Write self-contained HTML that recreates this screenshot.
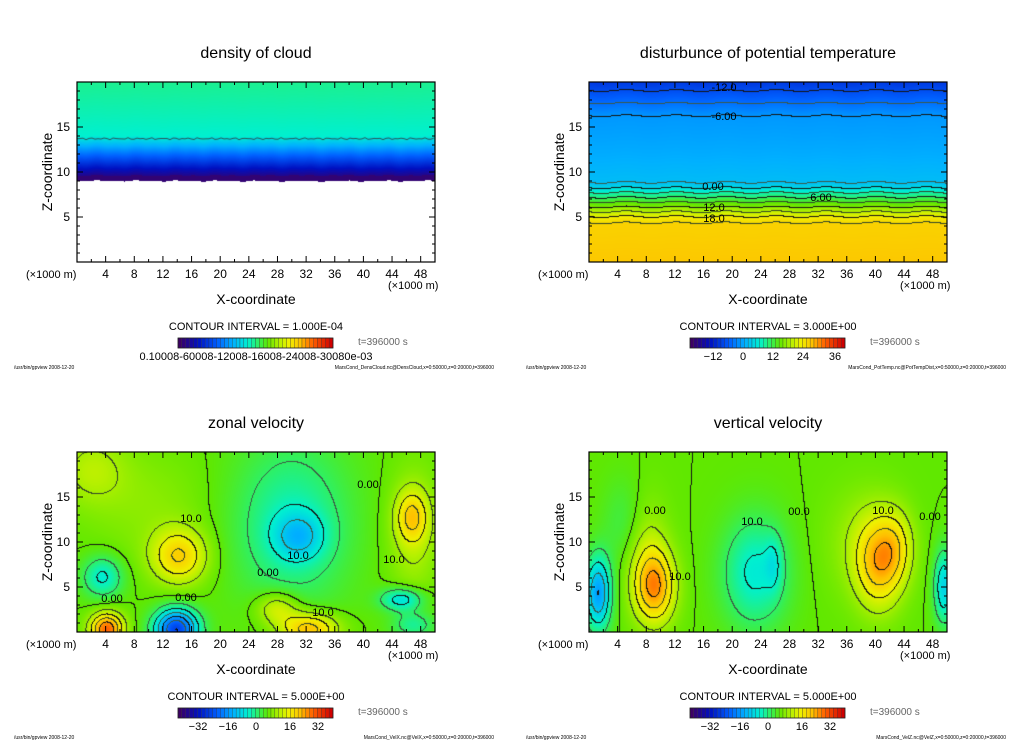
<!DOCTYPE html>
<html><head><meta charset="utf-8">
<style>
html,body{margin:0;padding:0;background:#fff;}
#root{position:relative;width:1024px;height:740px;overflow:hidden;font-family:"Liberation Sans",sans-serif;}
canvas{position:absolute;}
svg{position:absolute;left:0;top:0;}
</style></head>
<body>
<div id="root">
<canvas id="c0" width="358" height="180" style="left:77px;top:82px"></canvas>
<canvas id="c1" width="358" height="180" style="left:589px;top:82px"></canvas>
<canvas id="c2" width="358" height="180" style="left:77px;top:452px"></canvas>
<canvas id="c3" width="358" height="180" style="left:589px;top:452px"></canvas>
<svg id="ov" width="1024" height="740"></svg>
</div>
<script>
// ---- data ----
const xTicks = [4,8,12,16,20,24,28,32,36,40,44,48];
const zTicks = [5,10,15];
const titles = ["density of cloud","disturbunce of potential temperature","zonal velocity","vertical velocity"];
const intervals = ["1.000E-04","3.000E+00","5.000E+00","5.000E+00"];
const files = ["MarsCond_DensCloud.nc@DensCloud,x=0:50000,z=0:20000,t=396000","MarsCond_PotTemp.nc@PotTempDist,x=0:50000,z=0:20000,t=396000","MarsCond_VelX.nc@VelX,x=0:50000,z=0:20000,t=396000","MarsCond_VelZ.nc@VelZ,x=0:50000,z=0:20000,t=396000"];
// blobs: [x km, z km, amplitude, rx, rz]
const uBlobs = [[14.3,8.4,15,3.8,3],[3.6,6.1,-11,2.8,2.3],[4.2,0.3,24,2.3,1.8],[13.9,0.3,-30,3,2.2],[31,10.6,-10,3.5,2.6],[30,12,-9,8,9],[32.4,0.3,18,4,1.8],[28,2.6,10,3,1.8],[46.8,12.8,12,2.2,2.8],[47,11,6,3.5,7],[45.4,3.6,-13,3,1.3],[47,0.8,-8,3,1.5],[2,18,6,5,4],[10,14,3,8,6]];
const wBlobs = [[1.3,4.3,-20,1.8,4],[9.2,5,19,2.8,4],[8,9,6,3,6],[23.2,6.6,-11,4.5,6],[25.8,7.6,-5,1.2,3],[40.5,7.7,16,3.2,5],[43,9.5,8,2.5,4],[49.6,5,-14,1.4,4],[38,10,4,5,6],[5,12,-4,3,5]];
const thetaZ = [0,4.3,5.0,8.2,8.8,12,16.2,19.0,20];
const thetaV = [22,21,18,0,-3,-4.5,-6,-12,-14];
const cbLabelsTop = [["0.10008-60008-12008-16008-24008-30080e-03",256]];
const cbLabelsT = [[-12,201],[0,231],[12,261],[24,291],[36,323]];
const cbLabelsV = [[-32,198],[-16,228],[0,256],[16,290],[32,318]];

// ---- helpers ----
const W=358,H=180;
const sx = x => x/50*W, sz = z => H - z/20*H;
const stops=[[0,[60,0,100]],[0.12,[0,16,192]],[0.25,[0,96,255]],[0.35,[0,176,255]],[0.45,[0,240,208]],[0.52,[48,240,96]],[0.58,[96,232,0]],[0.66,[184,240,0]],[0.72,[240,240,0]],[0.80,[255,192,0]],[0.88,[255,96,0]],[1,[208,0,0]]];
function cmap(t){t=Math.max(0,Math.min(1,t));for(let i=1;i<stops.length;i++){if(t<=stops[i][0]){const a=stops[i-1],b=stops[i],f=(t-a[0])/(b[0]-a[0]);return [0,1,2].map(k=>a[1][k]+(b[1][k]-a[1][k])*f);}}return stops[stops.length-1][1];}
function blobField(bl,x,z){let v=0;for(const b of bl){const dx=(x-b[0])/b[3],dz=(z-b[1])/b[4];v+=b[2]*Math.exp(-dx*dx-dz*dz);}return v;}
function interp(xs,ys,x){if(x<=xs[0])return ys[0];for(let i=1;i<xs.length;i++){if(x<=xs[i]){const f=(x-xs[i-1])/(xs[i]-xs[i-1]);return ys[i-1]+(ys[i]-ys[i-1])*f;}}return ys[ys.length-1];}
function render(id,fn,tfn,step,lines){
  const c=document.getElementById(id),ctx=c.getContext('2d'),img=ctx.createImageData(W,H);
  const vals=new Float32Array(W*H);
  for(let j=0;j<H;j++)for(let i=0;i<W;i++){vals[j*W+i]=fn((i+0.5)/W*50,(H-j-0.5)/H*20);}
  for(let j=0;j<H;j++)for(let i=0;i<W;i++){
    const v=vals[j*W+i];let col=tfn(v);
    if(lines&&col){const k=Math.floor(v/step);
      const r=i<W-1?Math.floor(vals[j*W+i+1]/step):k,d=j<H-1?Math.floor(vals[(j+1)*W+i]/step):k;
      if(r!==k||d!==k){const m=Math.max(k,r,d);const thick=(m*step)%(step*2)===0;
        col=thick?[20,20,20]:(v<0?[60,90,70]:[50,70,40]);}}
    const p=(j*W+i)*4;if(col){img.data[p]=col[0];img.data[p+1]=col[1];img.data[p+2]=col[2];img.data[p+3]=255;}else{img.data[p+3]=0;}
  }
  ctx.putImageData(img,0,0);
}
// cloud
render('c0',(x,z)=>z+0.08*Math.sin(x*1.7)*Math.sin(x*0.6),v=>{if(v<9)return null;let t;if(v<9.6)t=0.02;else if(v<14)t=0.05+(v-9.6)/4.4*0.40;else t=0.45+(v-14)/6*0.04;return cmap(t);},0,false);
(function(){const ctx=document.getElementById('c0').getContext('2d');ctx.strokeStyle='#333';ctx.lineWidth=0.8;ctx.beginPath();for(let i=0;i<=W;i+=3){const z=13.7+0.12*Math.sin(i*0.9)*Math.cos(i*0.37);const y=sz(z);i?ctx.lineTo(i,y):ctx.moveTo(i,y);}ctx.stroke();})();
// potential temperature
render('c1',(x,z)=>interp(thetaZ,thetaV,z+0.1*Math.sin(x*0.9)),v=>cmap(0.42+v/60),3,true);
// velocities
render('c2',(x,z)=>blobField(uBlobs,x,z),v=>cmap(0.58+v/80),5,true);
render('c3',(x,z)=>blobField(wBlobs,x,z),v=>cmap(0.58+v/80),5,true);

// ---- overlay ----
const svg=document.getElementById('ov');const NS='http://www.w3.org/2000/svg';
function el(tag,attrs,text){const e=document.createElementNS(NS,tag);for(const k in attrs)e.setAttribute(k,attrs[k]);if(text!==undefined)e.textContent=text;svg.appendChild(e);return e;}
const panels=[[0,0],[512,0],[0,370],[512,370]];
panels.forEach((p,pi)=>{
  const dx=p[0],dy=p[1],ox=77+dx,oy=82+dy;
  const t=el('text',{x:256+dx,y:58+dy,'text-anchor':'middle','font-size':16,fill:'#000'},titles[pi]);
  
  
  const fr=el('rect',{x:ox,y:oy,width:W,height:H,fill:'none',stroke:'#000','stroke-width':1.2});
  
  
  for(let v=2;v<50;v+=2){const X=ox+sx(v),L=v%4===0?6:3;el('line',{x1:X,x2:X,y1:oy+H,y2:oy+H-L,stroke:'#000'});el('line',{x1:X,x2:X,y1:oy,y2:oy+L,stroke:'#000'});}
  for(let v=1;v<20;v++){const Y=oy+sz(v),L=v%5===0?6:3;el('line',{x1:ox,x2:ox+L,y1:Y,y2:Y,stroke:'#000'});el('line',{x1:ox+W,x2:ox+W-L,y1:Y,y2:Y,stroke:'#000'});}
  xTicks.forEach(v=>{const e=el('text',{x:ox+sx(v),y:278+dy,'text-anchor':'middle','font-size':12},String(v));
    
    });
  zTicks.forEach(v=>{const e=el('text',{x:70+dx,y:oy+sz(v)+4,'text-anchor':'end','font-size':12},String(v));
    
    });
  el('text',{x:26+dx,y:278+dy,'font-size':11},'(×1000 m)');
  el('text',{x:388+dx,y:289+dy,'font-size':11},'(×1000 m)');
  const xl=el('text',{x:256+dx,y:304+dy,'text-anchor':'middle','font-size':14},'X-coordinate');
  
  
  const zl=el('text',{x:0,y:0,'text-anchor':'middle','font-size':14,transform:`translate(${52+dx},${172+dy}) rotate(-90)`},'Z-coordinate');
  
  
  el('text',{x:256+dx,y:330+dy,'text-anchor':'middle','font-size':11},'CONTOUR INTERVAL = '+intervals[pi]);
  const n=40,cw=155/n;
  for(let i=0;i<n;i++){const c=cmap(i/(n-1));el('rect',{x:178+dx+i*cw,y:338+dy,width:cw,height:10,fill:`rgb(${c.map(Math.round).join(',')})`,stroke:'#333','stroke-width':0.3});}
  const cb=el('rect',{x:178+dx,y:338+dy,width:155,height:10,fill:'none',stroke:'#222','stroke-width':0.8});
  
  
  if(pi===0){cbLabelsTop.forEach(l=>el('text',{x:l[1]+dx,y:360+dy,'text-anchor':'middle','font-size':11},l[0]));}
  else{(pi===1?cbLabelsT:cbLabelsV).forEach(l=>el('text',{x:l[1]+dx,y:360+dy,'text-anchor':'middle','font-size':11},String(l[0]).replace('-','−')));}
  el('text',{x:358+dx,y:345+dy,'font-size':10,fill:'#666'},'t=396000 s');
  el('text',{x:14+dx,y:369+dy,'font-size':5},'/usr/bin/gpview   2008-12-20');
  el('text',{x:494+dx,y:369+dy,'font-size':5,'text-anchor':'end'},files[pi]);
});
function lab(x,y,s){const e=el('text',{x:x,y:y,'font-size':11,'text-anchor':'middle',fill:'#000'},s);
  
  }
lab(724,91,'-12.0');lab(724,120,'-6.00');lab(713,190,'0.00');lab(821,201,'6.00');lab(714,211,'12.0');lab(714,222,'18.0');
lab(191,522,'10.0');lab(112,602,'0.00');lab(186,601,'0.00');lab(298,559,'10.0');lab(268,576,'0.00');lab(394,563,'10.0');lab(323,616,'10.0');lab(368,488,'0.00');
lab(655,514,'0.00');lab(752,525,'10.0');lab(680,580,'10.0');lab(799,515,'00.0');lab(883,514,'10.0');lab(930,520,'0.00');
</script>
</body></html>
